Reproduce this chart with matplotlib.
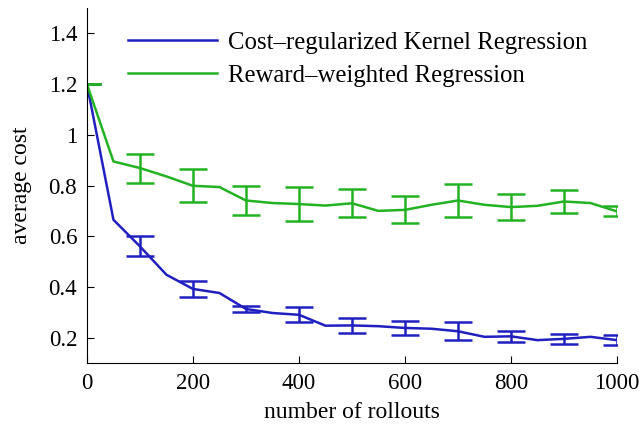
import matplotlib
matplotlib.use("Agg")
import matplotlib.pyplot as plt
import numpy as np

plt.rcParams['font.family'] = ['Liberation Serif', 'DejaVu Serif']

rollouts = [0, 50, 100, 150, 200, 250, 300, 350, 400, 450, 500, 550, 600,
            650, 700, 750, 800, 850, 900, 950, 1000]
crkr_mean = [1.20, 0.665, 0.56, 0.448, 0.392, 0.376, 0.313, 0.297, 0.29, 0.247,
             0.248, 0.245, 0.238, 0.235, 0.225, 0.203, 0.205, 0.19, 0.195, 0.203, 0.19]
rwr_mean = [1.20, 0.895, 0.869, 0.836, 0.799, 0.794, 0.741, 0.731, 0.727, 0.721,
            0.73, 0.70, 0.704, 0.724, 0.741, 0.724, 0.715, 0.72, 0.737, 0.731, 0.698]

err_x = [0, 100, 200, 300, 400, 500, 600, 700, 800, 900, 1000]
crkr_err = [0.0, 0.039, 0.033, 0.012, 0.029, 0.031, 0.028, 0.036, 0.022, 0.021, 0.019]
rwr_err = [0.0, 0.057, 0.065, 0.059, 0.066, 0.055, 0.053, 0.064, 0.052, 0.046, 0.02]

labels = ['Cost\u2013regularized Kernel Regression', 'Reward\u2013weighted Regression']
blue = '#2020c0'
green = '#22b222'

fig = plt.figure(figsize=(6.44, 4.29), dpi=100)
ax = fig.add_axes([0.135, 0.154, 0.823, 0.827])

def pick(xs, ys, sel):
    d = dict(zip(xs, ys))
    return [d[s] for s in sel]

ax.plot(rollouts, crkr_mean, color=blue, lw=1.8, label=labels[0])
ax.plot(rollouts, rwr_mean, color=green, lw=1.8, label=labels[1])
ax.errorbar(err_x, pick(rollouts, crkr_mean, err_x), yerr=crkr_err, fmt='none',
            ecolor=blue, elinewidth=1.8, capsize=10, capthick=1.8)
ax.errorbar(err_x, pick(rollouts, rwr_mean, err_x), yerr=rwr_err, fmt='none',
            ecolor=green, elinewidth=1.8, capsize=10, capthick=1.8)

ax.set_xlim(0, 1000)
ax.set_ylim(0.1, 1.5)
ax.set_xticks([0, 200, 400, 600, 800, 1000])
ax.set_yticks([0.2, 0.4, 0.6, 0.8, 1.0, 1.2, 1.4])
ax.set_yticklabels(['0.2', '0.4', '0.6', '0.8', '1', '1.2', '1.4'])
ax.spines['top'].set_visible(False)
ax.spines['right'].set_visible(False)
ax.tick_params(direction='in', length=5, labelsize=16.5, pad=7)
ax.set_xlabel('number of rollouts', fontsize=17, labelpad=6)
ax.set_ylabel('average cost', fontsize=17, labelpad=12)

ax.legend(loc='upper left', bbox_to_anchor=(0.058, 0.962), frameon=False,
          fontsize=17.8, handlelength=3.6, handletextpad=0.45, labelspacing=0.42,
          borderaxespad=0)

fig.savefig('out.png', dpi=100)
